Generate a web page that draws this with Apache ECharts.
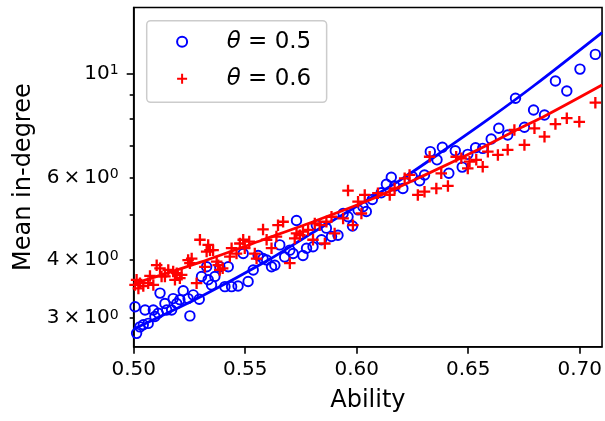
<!DOCTYPE html>
<html><head><meta charset="utf-8">
<script src="https://cdn.jsdelivr.net/npm/echarts@6/dist/echarts.min.js"></script>
<style>html,body{margin:0;padding:0;background:#fff}#c{width:605px;height:421px}</style>
</head><body><div id="c"></div>
<script>
// ---- data ----
const xTicks = [0.50, 0.55, 0.60, 0.65, 0.70];
const yLabelTicks = [3, 4, 6, 10];
const yMajorTicks = [10];
const yMinorTicks = [3, 4, 5, 6, 7, 8, 9];
const seriesNames = ['θ = 0.5', 'θ = 0.6'];

// theta = 0.5 : [ability, mean in-degree]
const blueTheta05 = [
[0.5006,3.17],[0.5013,2.78],[0.5028,2.87],[0.5043,2.90],[0.5051,3.12],[0.5065,2.92],[0.5088,3.12],[0.5095,3.02],
[0.5118,3.39],[0.5110,3.07],[0.5140,3.22],[0.5148,3.12],[0.5170,3.12],[0.5177,3.30],[0.5193,3.22],[0.5222,3.43],
[0.5207,3.28],[0.5244,3.30],[0.5252,3.03],[0.5267,3.36],[0.5294,3.29],[0.5304,3.68],[0.5327,3.86],[0.5334,3.62],
[0.5349,3.53],[0.5364,3.68],[0.5386,3.86],[0.5409,3.50],[0.5424,3.86],[0.5439,3.50],[0.5468,3.51],[0.5491,4.12],
[0.5513,3.59],[0.5536,3.80],[0.5558,4.08],[0.5580,4.02],[0.5596,3.99],[0.5618,3.86],[0.5633,3.89],[0.5655,4.30],
[0.5677,4.05],[0.5700,4.19],[0.5715,4.12],[0.5730,4.85],[0.5759,4.08],[0.5775,4.23],[0.5804,4.26],[0.5819,4.74],
[0.5842,4.41],[0.5864,4.67],[0.5887,4.48],[0.5916,4.51],[0.5939,5.02],[0.5961,4.94],[0.5981,4.72],[0.6006,5.11],
[0.6028,5.19],[0.6043,5.07],[0.6070,5.38],[0.6110,5.56],[0.6133,5.80],[0.6155,6.00],[0.6170,5.75],[0.6207,5.68],
[0.6249,6.02],[0.6282,5.90],[0.6304,6.07],[0.6330,6.81],[0.6360,6.54],[0.6384,6.96],[0.6413,6.12],[0.6442,6.84],
[0.6473,6.31],[0.6498,6.72],[0.6533,6.94],[0.6565,6.92],[0.6603,7.25],[0.6637,7.64],[0.6677,7.39],[0.6712,8.86],
[0.6752,7.68],[0.6793,8.36],[0.6842,8.16],[0.6891,9.65],[0.6942,9.18],[0.7001,10.23],[0.7070,11.00]
];

// theta = 0.6 : [ability, mean in-degree]
const redTheta06 = [
[0.5013,3.62],[0.5006,3.53],[0.5028,3.56],[0.5043,3.51],[0.5021,3.47],[0.5065,3.56],[0.5073,3.69],[0.5088,3.53],
[0.5103,3.89],[0.5118,3.83],[0.5125,3.68],[0.5140,3.68],[0.5155,3.80],[0.5177,3.77],[0.5185,3.62],[0.5193,3.74],
[0.5207,3.65],[0.5215,3.71],[0.5244,3.99],[0.5260,4.02],[0.5252,3.93],[0.5282,3.56],[0.5297,4.41],[0.5327,4.16],
[0.5342,4.19],[0.5334,4.30],[0.5356,4.19],[0.5319,3.86],[0.5372,3.96],[0.5386,3.80],[0.5399,3.83],[0.5379,3.89],
[0.5431,4.06],[0.5439,4.23],[0.5461,4.12],[0.5476,4.33],[0.5491,4.41],[0.5498,4.23],[0.5518,4.37],[0.5543,4.12],
[0.5551,4.02],[0.5580,4.64],[0.5596,4.41],[0.5618,4.23],[0.5640,4.48],[0.5647,4.74],[0.5670,4.82],[0.5700,3.93],
[0.5722,4.44],[0.5730,4.55],[0.5745,4.51],[0.5759,4.59],[0.5782,4.63],[0.5804,4.41],[0.5812,4.78],[0.5834,4.74],
[0.5857,4.33],[0.5864,4.82],[0.5887,4.94],[0.5901,4.55],[0.5939,4.90],[0.5961,5.62],[0.5983,4.74],[0.6006,5.32],
[0.6021,5.02],[0.6036,5.50],[0.6095,5.55],[0.6148,5.50],[0.6170,5.68],[0.6215,5.97],[0.6237,6.07],[0.6274,5.50],
[0.6304,5.59],[0.6357,5.68],[0.6409,5.75],[0.6379,6.12],[0.6327,6.64],[0.6446,6.64],[0.6469,6.59],[0.6506,6.48],
[0.6536,6.54],[0.6498,6.27],[0.6565,6.32],[0.6588,6.81],[0.6633,6.70],[0.6677,6.87],[0.6707,7.58],[0.6752,7.04],
[0.6797,7.64],[0.6842,7.33],[0.6891,7.80],[0.6942,8.03],[0.6998,7.89],[0.7070,8.67]
];

// fitted curves
const blueFit = [[0.500,2.84],[0.530,3.33],[0.560,3.98],[0.580,4.56],[0.600,5.20],[0.620,5.94],[0.640,6.90],[0.660,8.05],[0.680,9.47],[0.710,12.25]];
const redFit  = [[0.500,3.55],[0.530,3.95],[0.558,4.41],[0.582,4.85],[0.606,5.37],[0.630,6.05],[0.655,6.90],[0.671,7.55],[0.685,8.15],[0.710,9.46]];

// ---- chart ----
const FONT = 'DejaVu Sans';
const chart = echarts.init(document.getElementById('c'), null, {renderer: 'canvas'});
const axisLineStyle = {color: '#000', width: 1.6};
const option = {
  animation: false,
  backgroundColor: '#fff',
  grid: {left: 133.7, right: 2.3, top: 7.5, bottom: 74.3, show: true, borderColor: '#000', borderWidth: 1.6},
  legend: {
    orient: 'vertical', left: 146.7, top: 20.7,
    data: seriesNames,
    itemWidth: 70, itemHeight: 10, itemGap: 11,
    padding: [8, 15.4, 10.6, 27.9],
    borderColor: '#cccccc', borderWidth: 1.5, borderRadius: 4,
    backgroundColor: 'rgba(255,255,255,0.8)',
    formatter: n => '\u2009' + n.replace('θ', '{t|θ}'),
    textStyle: {fontSize: 23, fontFamily: FONT, color: '#000', lineHeight: 26,
      rich: {t: {fontStyle: 'italic', fontSize: 23, fontFamily: FONT, color: '#000', lineHeight: 26}}}
  },
  xAxis: {
    type: 'value', min: 0.5, max: 0.71,
    axisLine: {show: true, lineStyle: axisLineStyle},
    splitLine: {show: false},
    axisTick: {show: true, customValues: xTicks, length: 7, lineStyle: axisLineStyle},
    axisLabel: {customValues: xTicks, formatter: v => v.toFixed(2), fontSize: 20, color: '#000', fontFamily: FONT, margin: 13},
    name: 'Ability', nameLocation: 'middle', nameGap: 42,
    nameTextStyle: {fontSize: 24, color: '#000', fontFamily: FONT}
  },
  yAxis: [{
    type: 'log', logBase: 10, min: 2.603, max: 13.86, position: 'left',
    axisLine: {show: true, lineStyle: axisLineStyle},
    splitLine: {show: false}, minorTick: {show: false}, minorSplitLine: {show: false},
    axisTick: {show: true, customValues: yMajorTicks, length: 7, lineStyle: axisLineStyle},
    axisLabel: {
      customValues: yLabelTicks, margin: 15, fontFamily: FONT, color: '#000',
      formatter: v => { const r = Math.round(v); return r === 10 ? '{m|10}{s|1}' : '{m|' + r + '\u2009×\u200910}{s|0}'; },
      rich: {
        m: {fontSize: 20, fontFamily: FONT, color: '#000', lineHeight: 20, padding: [5, 0, 0, 0], verticalAlign: 'bottom'},
        s: {fontSize: 14, fontFamily: FONT, color: '#000', lineHeight: 14, verticalAlign: 'top'}
      }
    },
    name: 'Mean in-degree', nameLocation: 'middle', nameGap: 92, nameRotate: 90,
    nameTextStyle: {fontSize: 24, color: '#000', fontFamily: FONT}
  }, {
    type: 'log', logBase: 10, min: 2.603, max: 13.86, position: 'left', offset: 0,
    axisLine: {show: false}, splitLine: {show: false}, axisLabel: {show: false},
    axisTick: {show: true, customValues: yMinorTicks, length: 4, lineStyle: axisLineStyle}
  }],
  series: [
    {name: seriesNames[0], type: 'scatter', data: blueTheta05, symbol: 'circle', symbolSize: 9.5, z: 2,
     itemStyle: {color: 'none', borderColor: '#0000ff', borderWidth: 1.9, opacity: 1}},
    {name: 'fit0.5', type: 'line', data: blueFit, showSymbol: false, smooth: 0.3, z: 3, silent: true,
     lineStyle: {color: '#0000ff', width: 2.8}},
    {name: seriesNames[1], type: 'scatter', data: redTheta06, z: 4,
     symbol: 'path://M0,5L10,5M5,0L5,10', symbolSize: 11.5,
     itemStyle: {color: 'none', borderColor: '#ff0000', borderWidth: 2.3, opacity: 1}},
    {name: 'fit0.6', type: 'line', data: redFit, showSymbol: false, smooth: 0.3, z: 5, silent: true,
     lineStyle: {color: '#ff0000', width: 2.8}}
  ]
};
chart.setOption(option);
</script></body></html>
